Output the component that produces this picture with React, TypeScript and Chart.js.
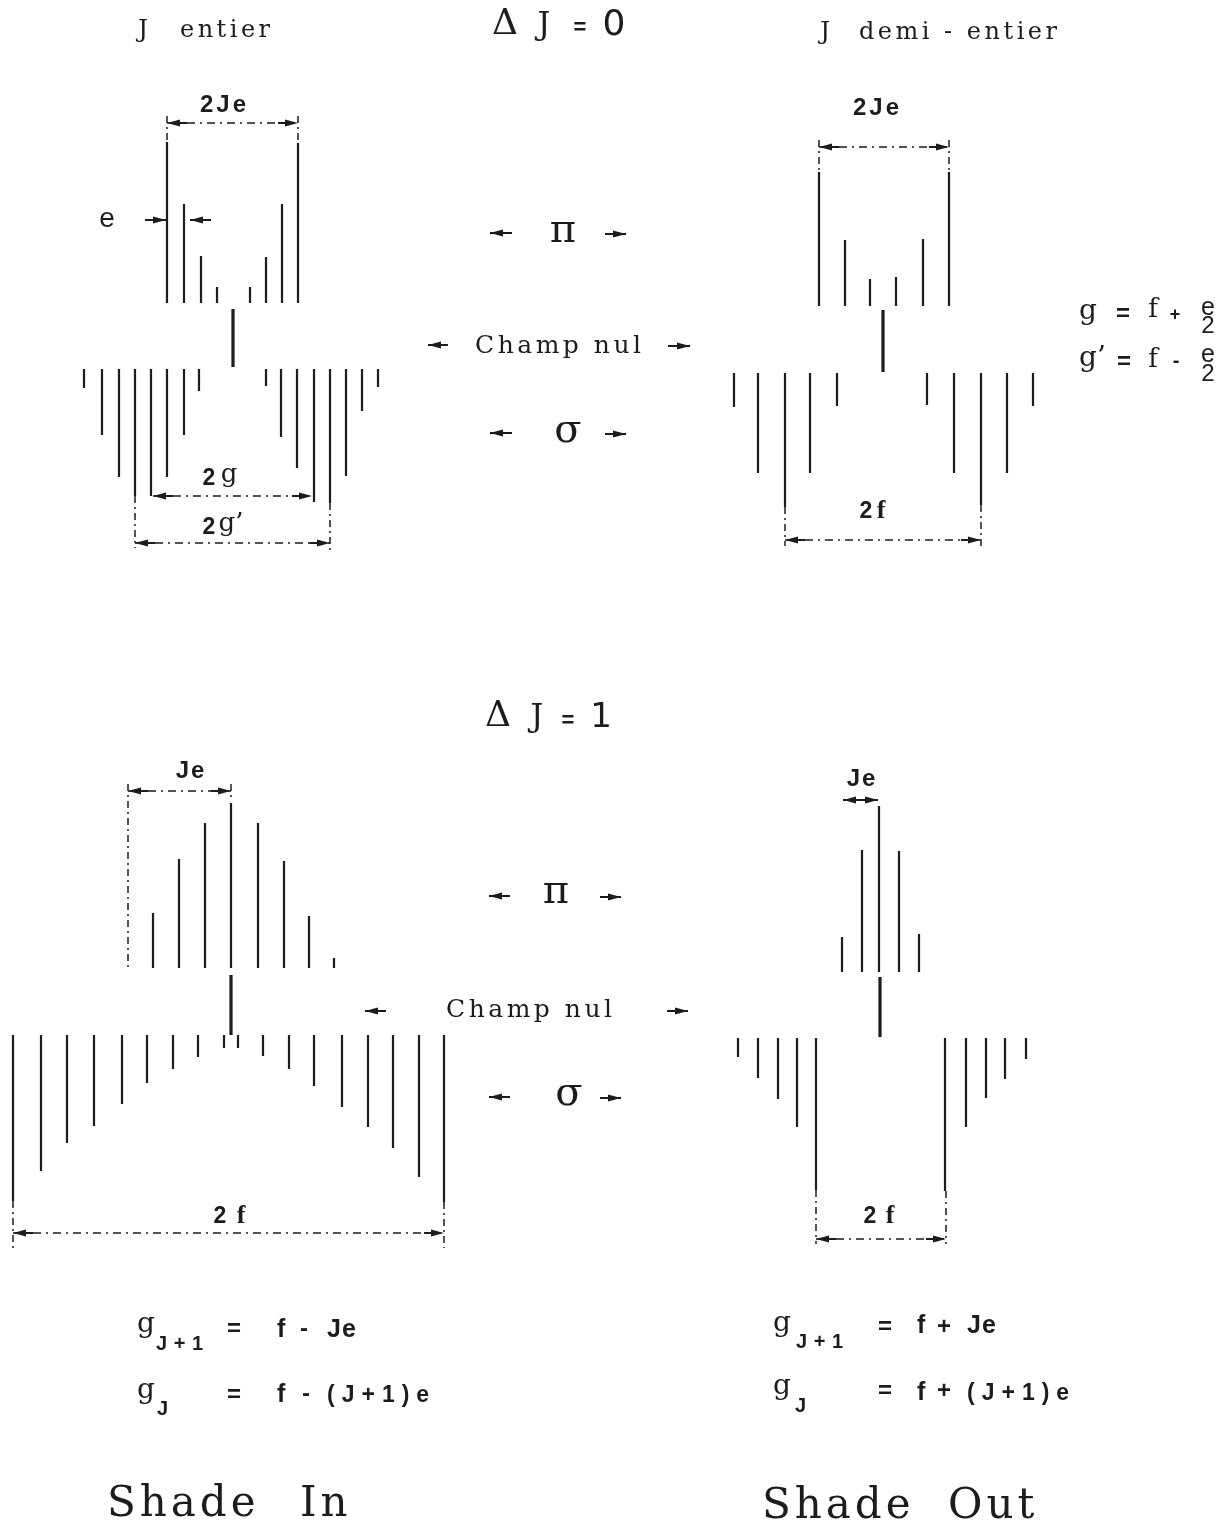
import { useEffect, useRef } from "react";
import { Chart, registerables } from "chart.js";

Chart.register(...registerables);

const W = 1230;
const H = 1523;
const INK = "#1c1c1c";
const SERIF = '"Liberation Serif", "Times New Roman", serif';
const DSERIF = '"DejaVu Serif", serif';
const SANS = '"Liberation Sans", Arial, sans-serif';
const DSANS = '"DejaVu Sans", sans-serif';

// ---------- ΔJ = 0, J entier (top left) ----------
const TL_PI_X = [167, 184, 201, 217, 250, 266, 282, 298];
const TL_PI_TOP = [142, 204, 256, 287, 287, 257, 204, 143];
const TL_PI_BASE = 303;
const TL_SIGMA_X = [84, 102, 119, 135, 151, 167, 184, 199, 266, 281, 297, 314, 330, 346, 362, 378];
const TL_SIGMA_END = [388, 435, 477, 496, 496, 477, 435, 391, 386, 437, 468, 502, 503, 476, 411, 387];
const TL_SIGMA_BASE = 369;
const TL_ZERO = { x: 233, y0: 309, y1: 367 };

// ---------- ΔJ = 0, J demi-entier (top right) ----------
const TR_PI_X = [819, 845, 870, 896, 923, 949];
const TR_PI_TOP = [172, 240, 279, 277, 239, 172];
const TR_PI_BASE = 306;
const TR_SIGMA_X = [734, 758, 785, 810, 837, 927, 954, 981, 1007, 1033];
const TR_SIGMA_END = [407, 473, 507, 473, 406, 405, 473, 505, 473, 406];
const TR_SIGMA_BASE = 373;
const TR_ZERO = { x: 883, y0: 310, y1: 372 };

// ---------- ΔJ = 1, Shade In (bottom left) ----------
const BL_PI_X = [153, 179, 205, 231, 258, 284, 309, 334];
const BL_PI_TOP = [913, 859, 823, 803, 823, 861, 916, 958];
const BL_PI_BASE = 968;
const BL_SIGMA_X = [13, 41, 67, 94, 122, 147, 173, 198, 224, 238, 263, 289, 314, 342, 368, 393, 419, 444];
const BL_SIGMA_END = [1201, 1171, 1143, 1126, 1104, 1083, 1069, 1057, 1048, 1048, 1056, 1069, 1086, 1107, 1127, 1148, 1177, 1202];
const BL_SIGMA_BASE = 1035;
const BL_ZERO = { x: 231, y0: 975, y1: 1035 };

// ---------- ΔJ = 1, Shade Out (bottom right) ----------
const BR_PI_X = [842, 862, 879, 899, 919];
const BR_PI_TOP = [937, 850, 806, 851, 934];
const BR_PI_BASE = 972;
const BR_SIGMA_X = [738, 758, 778, 797, 816, 945, 966, 986, 1005, 1026];
const BR_SIGMA_END = [1057, 1078, 1099, 1127, 1190, 1191, 1127, 1098, 1079, 1059];
const BR_SIGMA_BASE = 1038;
const BR_ZERO = { x: 880, y0: 977, y1: 1037 };

// dimension lines: [x1, x2, y]
const DIM_LINES: [number, number, number][] = [
  [167, 298, 123],
  [153, 312, 496],
  [135, 330, 543],
  [819, 949, 147],
  [785, 981, 540],
  [128, 231, 791],
  [13, 444, 1233],
  [816, 946, 1239],
];
// solid double arrow (Je, shade out)
const DOUBLE_ARROWS: [number, number, number][] = [[843, 878, 800]];
// extension lines: [x, y1, y2]
const EXT_LINES: [number, number, number][] = [
  [167, 116, 142],
  [298, 116, 143],
  [135, 496, 548],
  [330, 503, 550],
  [819, 140, 172],
  [949, 140, 172],
  [785, 507, 546],
  [981, 505, 546],
  [128, 784, 968],
  [231, 784, 800],
  [13, 1201, 1248],
  [444, 1202, 1248],
  [816, 1190, 1244],
  [946, 1191, 1244],
];
// single arrows: [tailX, tipX, y]
const ARROWS: [number, number, number][] = [
  [145, 166, 220],
  [211, 190, 220],
  [512, 490, 233],
  [605, 626, 234],
  [448, 428, 345],
  [668, 690, 346],
  [512, 490, 433],
  [605, 626, 434],
  [510, 489, 896],
  [600, 621, 897],
  [386, 365, 1011],
  [667, 688, 1011],
  [510, 489, 1097],
  [600, 621, 1098],
];

type Label = { t: string; x: number; y: number; font: string; align?: "left" | "center"; ls?: number };

const LABELS: Label[] = [
  // header
  { t: "J", x: 143, y: 37, font: `25px ${DSERIF}`, align: "center" },
  { t: "entier", x: 225, y: 37, font: `24px ${DSERIF}`, align: "center", ls: 3.5 },
  { t: "Δ", x: 505, y: 34, font: `36px ${DSERIF}`, align: "center" },
  { t: "J", x: 544, y: 34, font: `32px ${DSERIF}`, align: "center" },
  { t: "=", x: 580, y: 34, font: `bold 22px ${SANS}`, align: "center" },
  { t: "0", x: 614, y: 35, font: `36px ${DSANS}`, align: "center" },
  { t: "J", x: 825, y: 39, font: `25px ${DSERIF}`, align: "center" },
  { t: "demi - entier", x: 958, y: 39, font: `24px ${DSERIF}`, align: "center", ls: 3.5 },
  // top middle
  { t: "π", x: 563, y: 242, font: `40px ${DSERIF}`, align: "center" },
  { t: "Champ nul", x: 558, y: 353, font: `25px ${DSERIF}`, align: "center", ls: 3.5 },
  { t: "σ", x: 568, y: 442, font: `40px ${DSERIF}`, align: "center" },
  // top left
  { t: "2Je", x: 223, y: 112, font: `bold 24px ${SANS}`, align: "center", ls: 3 },
  { t: "e", x: 107, y: 227, font: `28px ${SANS}`, align: "center" },
  { t: "2", x: 209, y: 485, font: `bold 23px ${SANS}`, align: "center" },
  { t: "g", x: 229, y: 482, font: `26px ${DSERIF}`, align: "center" },
  { t: "2", x: 209, y: 534, font: `bold 23px ${SANS}`, align: "center" },
  { t: "g’", x: 231, y: 531, font: `26px ${DSERIF}`, align: "center" },
  // top right
  { t: "2Je", x: 876, y: 115, font: `bold 24px ${SANS}`, align: "center", ls: 3 },
  { t: "2", x: 866, y: 518, font: `bold 23px ${SANS}`, align: "center" },
  { t: "f", x: 881, y: 518, font: `bold 26px ${SERIF}`, align: "center" },
  // formulas right
  { t: "g", x: 1079, y: 319, font: `28px ${DSERIF}`, align: "left" },
  { t: "=", x: 1123, y: 321, font: `bold 24px ${SANS}`, align: "center" },
  { t: "f", x: 1153, y: 317, font: `26px ${DSERIF}`, align: "center" },
  { t: "+", x: 1175, y: 320, font: `bold 18px ${SANS}`, align: "center" },
  { t: "e", x: 1208, y: 315, font: `25px ${SANS}`, align: "center" },
  { t: "2", x: 1208, y: 333, font: `24px ${SANS}`, align: "center" },
  { t: "g’", x: 1079, y: 366, font: `28px ${DSERIF}`, align: "left" },
  { t: "=", x: 1124, y: 369, font: `bold 24px ${SANS}`, align: "center" },
  { t: "f", x: 1153, y: 367, font: `26px ${DSERIF}`, align: "center" },
  { t: "-", x: 1176, y: 367, font: `bold 20px ${SANS}`, align: "center" },
  { t: "e", x: 1208, y: 362, font: `25px ${SANS}`, align: "center" },
  { t: "2", x: 1208, y: 381, font: `24px ${SANS}`, align: "center" },
  // bottom header
  { t: "Δ", x: 498, y: 726, font: `36px ${DSERIF}`, align: "center" },
  { t: "J", x: 537, y: 726, font: `32px ${DSERIF}`, align: "center" },
  { t: "=", x: 568, y: 727, font: `bold 22px ${SANS}`, align: "center" },
  { t: "1", x: 601, y: 727, font: `34px ${DSANS}`, align: "center" },
  // bottom middle
  { t: "π", x: 556, y: 903, font: `40px ${DSERIF}`, align: "center" },
  { t: "Champ nul", x: 529, y: 1017, font: `25px ${DSERIF}`, align: "center", ls: 3.5 },
  { t: "σ", x: 569, y: 1105, font: `40px ${DSERIF}`, align: "center" },
  // bottom dimension labels
  { t: "Je", x: 190, y: 778, font: `bold 24px ${SANS}`, align: "center", ls: 2 },
  { t: "2", x: 220, y: 1223, font: `bold 23px ${SANS}`, align: "center" },
  { t: "f", x: 241, y: 1223, font: `bold 26px ${SERIF}`, align: "center" },
  { t: "Je", x: 861, y: 786, font: `bold 24px ${SANS}`, align: "center", ls: 2 },
  { t: "2", x: 870, y: 1223, font: `bold 23px ${SANS}`, align: "center" },
  { t: "f", x: 890, y: 1223, font: `bold 26px ${SERIF}`, align: "center" },
  // bottom formulas left
  { t: "g", x: 137, y: 1332, font: `28px ${DSERIF}`, align: "left" },
  { t: "J + 1", x: 156, y: 1350, font: `bold 20px ${SANS}`, align: "left", ls: 0.5 },
  { t: "=", x: 234, y: 1336, font: `bold 24px ${SANS}`, align: "center" },
  { t: "f", x: 277, y: 1337, font: `bold 25px ${SANS}`, align: "left" },
  { t: "-", x: 304, y: 1336, font: `bold 24px ${SANS}`, align: "center" },
  { t: "Je", x: 327, y: 1337, font: `bold 25px ${SANS}`, align: "left", ls: 1 },
  { t: "g", x: 137, y: 1398, font: `28px ${DSERIF}`, align: "left" },
  { t: "J", x: 157, y: 1415, font: `bold 20px ${SANS}`, align: "left" },
  { t: "=", x: 234, y: 1402, font: `bold 24px ${SANS}`, align: "center" },
  { t: "f", x: 277, y: 1402, font: `bold 25px ${SANS}`, align: "left" },
  { t: "-", x: 306, y: 1401, font: `bold 24px ${SANS}`, align: "center" },
  { t: "(J+1)e", x: 327, y: 1402, font: `bold 23px ${SANS}`, align: "left", ls: 7 },
  // bottom formulas right
  { t: "g", x: 773, y: 1331, font: `28px ${DSERIF}`, align: "left" },
  { t: "J + 1", x: 796, y: 1348, font: `bold 20px ${SANS}`, align: "left", ls: 0.5 },
  { t: "=", x: 885, y: 1334, font: `bold 24px ${SANS}`, align: "center" },
  { t: "f", x: 917, y: 1333, font: `bold 25px ${SANS}`, align: "left" },
  { t: "+", x: 944, y: 1334, font: `bold 24px ${SANS}`, align: "center" },
  { t: "Je", x: 967, y: 1333, font: `bold 25px ${SANS}`, align: "left", ls: 1 },
  { t: "g", x: 773, y: 1394, font: `28px ${DSERIF}`, align: "left" },
  { t: "J", x: 795, y: 1412, font: `bold 20px ${SANS}`, align: "left" },
  { t: "=", x: 885, y: 1398, font: `bold 24px ${SANS}`, align: "center" },
  { t: "f", x: 917, y: 1400, font: `bold 25px ${SANS}`, align: "left" },
  { t: "+", x: 944, y: 1398, font: `bold 24px ${SANS}`, align: "center" },
  { t: "(J+1)e", x: 967, y: 1400, font: `bold 23px ${SANS}`, align: "left", ls: 7 },
  // shade
  { t: "Shade", x: 107, y: 1516, font: `42px ${DSERIF}`, align: "left", ls: 4 },
  { t: "In", x: 300, y: 1516, font: `42px ${DSERIF}`, align: "left", ls: 4 },
  { t: "Shade", x: 762, y: 1518, font: `42px ${DSERIF}`, align: "left", ls: 4 },
  { t: "Out", x: 948, y: 1518, font: `42px ${DSERIF}`, align: "left", ls: 4 },
];

function stickData(xs: number[], base: number, ends: number[]) {
  const out: { x: number; y: number }[] = [];
  xs.forEach((x, i) => {
    out.push({ x, y: base }, { x, y: ends[i] }, { x, y: NaN });
  });
  return out;
}

function makeArrowHead(): HTMLCanvasElement {
  const c = document.createElement("canvas");
  c.width = 40;
  c.height = 10;
  const g = c.getContext("2d")!;
  g.fillStyle = INK;
  g.strokeStyle = INK;
  g.lineWidth = 2;
  g.beginPath();
  g.moveTo(0, 5);
  g.lineTo(9, 5);
  g.stroke();
  g.beginPath();
  g.moveTo(7, 1.5);
  g.lineTo(20, 5);
  g.lineTo(7, 8.5);
  g.closePath();
  g.fill();
  return c;
}

const textPlugin = {
  id: "diagramText",
  afterDatasetsDraw(chart: any) {
    const { ctx } = chart;
    const xs = chart.scales.x;
    const ys = chart.scales.y;
    ctx.save();
    ctx.fillStyle = INK;
    ctx.textBaseline = "alphabetic";
    ctx.textAlign = "left";
    for (const L of LABELS) {
      const ls = L.ls || 0;
      ctx.font = L.font;
      (ctx as any).letterSpacing = `${ls}px`;
      const w = ctx.measureText(L.t).width - ls;
      const px = xs.getPixelForValue(L.x);
      const py = ys.getPixelForValue(L.y);
      const left = L.align === "center" ? px - w / 2 : px;
      ctx.fillText(L.t, left, py);
    }
    (ctx as any).letterSpacing = "0px";
    ctx.restore();
  },
};

export default function App() {
  const ref = useRef<HTMLCanvasElement | null>(null);

  useEffect(() => {
    if (!ref.current) return;
    const arrow = makeArrowHead();
    const DASH = [8, 5, 2, 5];

    const stickSet = (xs: number[], base: number, ends: number[], width = 2.2) => ({
      data: stickData(xs, base, ends),
      borderColor: INK,
      borderWidth: width,
      pointRadius: 0,
      showLine: true,
      spanGaps: false,
      borderCapStyle: "butt",
    });
    const zeroSet = (z: { x: number; y0: number; y1: number }) => stickSet([z.x], z.y0, [z.y1], 3.2);

    const datasets: any[] = [
      stickSet(TL_PI_X, TL_PI_BASE, TL_PI_TOP),
      stickSet(TL_SIGMA_X, TL_SIGMA_BASE, TL_SIGMA_END),
      zeroSet(TL_ZERO),
      stickSet(TR_PI_X, TR_PI_BASE, TR_PI_TOP),
      stickSet(TR_SIGMA_X, TR_SIGMA_BASE, TR_SIGMA_END),
      zeroSet(TR_ZERO),
      stickSet(BL_PI_X, BL_PI_BASE, BL_PI_TOP),
      stickSet(BL_SIGMA_X, BL_SIGMA_BASE, BL_SIGMA_END),
      zeroSet(BL_ZERO),
      stickSet(BR_PI_X, BR_PI_BASE, BR_PI_TOP),
      stickSet(BR_SIGMA_X, BR_SIGMA_BASE, BR_SIGMA_END),
      zeroSet(BR_ZERO),
    ];

    // extension lines
    const ext: { x: number; y: number }[] = [];
    EXT_LINES.forEach(([x, y1, y2]) => ext.push({ x, y: y1 }, { x, y: y2 }, { x, y: NaN }));
    datasets.push({
      data: ext,
      borderColor: INK,
      borderWidth: 1.5,
      borderDash: [7, 4, 2, 4],
      pointRadius: 0,
      showLine: true,
      spanGaps: false,
    });

    // dimension lines
    DIM_LINES.forEach(([x1, x2, y]) => {
      datasets.push({
        data: [{ x: x1, y }, { x: x2, y }],
        borderColor: INK,
        borderWidth: 1.5,
        borderDash: DASH,
        showLine: true,
        pointStyle: arrow,
        pointRadius: 1,
        pointRotation: [180, 0],
      });
    });
    DOUBLE_ARROWS.forEach(([x1, x2, y]) => {
      datasets.push({
        data: [{ x: x1, y }, { x: x2, y }],
        borderColor: INK,
        borderWidth: 2,
        showLine: true,
        pointStyle: arrow,
        pointRadius: 1,
        pointRotation: [180, 0],
      });
    });
    ARROWS.forEach(([tail, tip, y]) => {
      datasets.push({
        data: [{ x: tail, y }, { x: tip, y }],
        borderColor: INK,
        borderWidth: 2,
        showLine: true,
        pointStyle: arrow,
        pointRadius: [0, 1],
        pointRotation: [0, tip > tail ? 0 : 180],
      });
    });

    const chart = new Chart(ref.current, {
      type: "scatter",
      data: { datasets },
      options: {
        animation: false,
        responsive: false,
        events: [],
        layout: { padding: 0, autoPadding: false },
        scales: {
          x: { type: "linear", min: 0, max: W, display: false },
          y: { type: "linear", min: 0, max: H, reverse: true, display: false },
        },
        plugins: { legend: { display: false }, tooltip: { enabled: false } },
        elements: { line: { tension: 0 } },
      },
      plugins: [textPlugin as any],
    } as any);
    return () => chart.destroy();
  }, []);

  return (
    <div style={{ position: "absolute", left: 0, top: 0, width: W, height: H, background: "#fff" }}>
      <canvas ref={ref} width={W} height={H} style={{ display: "block", width: W, height: H }} />
    </div>
  );
}
